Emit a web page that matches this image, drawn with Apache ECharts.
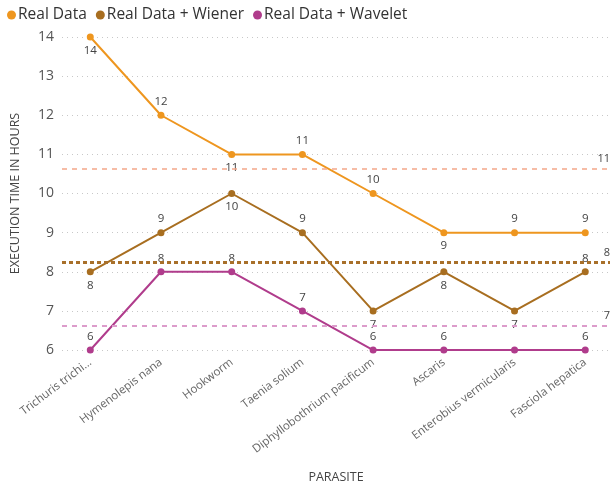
<!DOCTYPE html>
<html>
<head>
    <meta charset='utf-8'>
    <script src="https://cdn.jsdelivr.net/npm/echarts@6/dist/echarts.min.js"></script>
</head>
<body>
<style>
    html, body, #main {
        width: 100%;
        height: 100%;
        margin: 0;
        padding: 0;
        background: #fff;
    }
</style>
<div id="main"></div>
<script>
    var parasites = ['Trichuris trichi...', 'Hymenolepis nana', 'Hookworm', 'Taenia solium',
        'Diphyllobothrium pacificum', 'Ascaris', 'Enterobius vermicularis', 'Fasciola hepatica'];
    var realData = [14, 12, 11, 11, 10, 9, 9, 9];
    var wienerData = [8, 9, 10, 9, 7, 8, 7, 8];
    var waveletData = [6, 8, 8, 7, 6, 6, 6, 6];

    // where each data label sits (power bi moves them around to avoid overlaps)
    var realPos = ['bottom', 'top', 'bottom', 'top', 'top', 'bottom', 'top', 'top'];
    var wienerPos = ['bottom', 'top', 'bottom', 'top', 'bottom', 'bottom', 'bottom', 'top'];
    var waveletPos = ['top', 'top', 'top', 'top', 'top', 'top', null, 'top'];

    var font = '"Segoe UI", "Open Sans", sans-serif';

    function points(values, pos) {
        return values.map(function (v, i) {
            return {
                value: [i, v],
                label: pos[i] ? {show: true, position: pos[i]} : {show: false}
            };
        });
    }

    function makeSeries(name, color, avgColor, avgStyle, values, pos) {
        return {
            name: name,
            type: 'line',
            data: points(values, pos),
            symbol: 'circle',
            symbolSize: 7,
            lineStyle: {width: 2, color: color},
            itemStyle: {color: color},
            label: {color: '#444', fontSize: 11.5, fontFamily: font, distance: 4},
            markLine: {
                silent: true,
                symbol: 'none',
                data: [{type: 'average', name: 'avg'}],
                lineStyle: {color: avgColor, type: avgStyle.type, width: avgStyle.width},
                label: {
                    position: 'insideEndTop',
                    color: '#444',
                    fontSize: 11,
                    fontFamily: font,
                    distance: [0, 4],
                    formatter: function (p) { return Math.round(p.value); }
                }
            }
        };
    }

    var chart = echarts.init(document.getElementById('main'));

    chart.setOption({
        animation: false,
        legend: {
            left: 2,
            top: 2,
            icon: 'circle',
            itemWidth: 9,
            itemHeight: 9,
            itemGap: 9,
            textStyle: {fontSize: 15.5, color: '#333', fontFamily: font, padding: [0, 0, 0, -3]}
        },
        grid: {left: 62, right: 2, top: 37, bottom: 136, outerBoundsMode: 'none'},
        xAxis: {
            type: 'value',
            min: -0.4,
            max: 7.35,
            name: 'PARASITE',
            nameLocation: 'middle',
            nameGap: 121,
            nameTextStyle: {fontSize: 12.5, color: '#444', fontFamily: font},
            axisLine: {show: false},
            axisTick: {show: false},
            splitLine: {show: false},
            axisLabel: {
                customValues: [0, 1, 2, 3, 4, 5, 6, 7],
                formatter: function (v) { return parasites[v]; },
                rotate: 37,
                margin: 11,
                fontSize: 11.5,
                color: '#666',
                fontFamily: font
            }
        },
        yAxis: {
            type: 'value',
            min: 6,
            max: 14,
            interval: 1,
            name: 'EXECUTION TIME IN HOURS',
            nameLocation: 'middle',
            nameGap: 40,
            nameTextStyle: {fontSize: 12.5, color: '#444', fontFamily: font},
            axisLine: {show: false},
            axisTick: {show: false},
            axisLabel: {fontSize: 14, color: '#555', margin: 8, fontFamily: font},
            splitLine: {lineStyle: {type: [1, 4], color: '#c8c8c8'}}
        },
        series: [
            makeSeries('Real Data', '#EE961F', '#F4A689', {type: [5, 5], width: 1.5}, realData, realPos),
            makeSeries('Real Data + Wiener', '#A86E20', '#A8702A', {type: [4, 3], width: 3}, wienerData, wienerPos),
            makeSeries('Real Data + Wavelet', '#B03C8C', '#DC9CCB', {type: [5, 5], width: 2}, waveletData, waveletPos)
        ]
    });
</script>
</body>
</html>
